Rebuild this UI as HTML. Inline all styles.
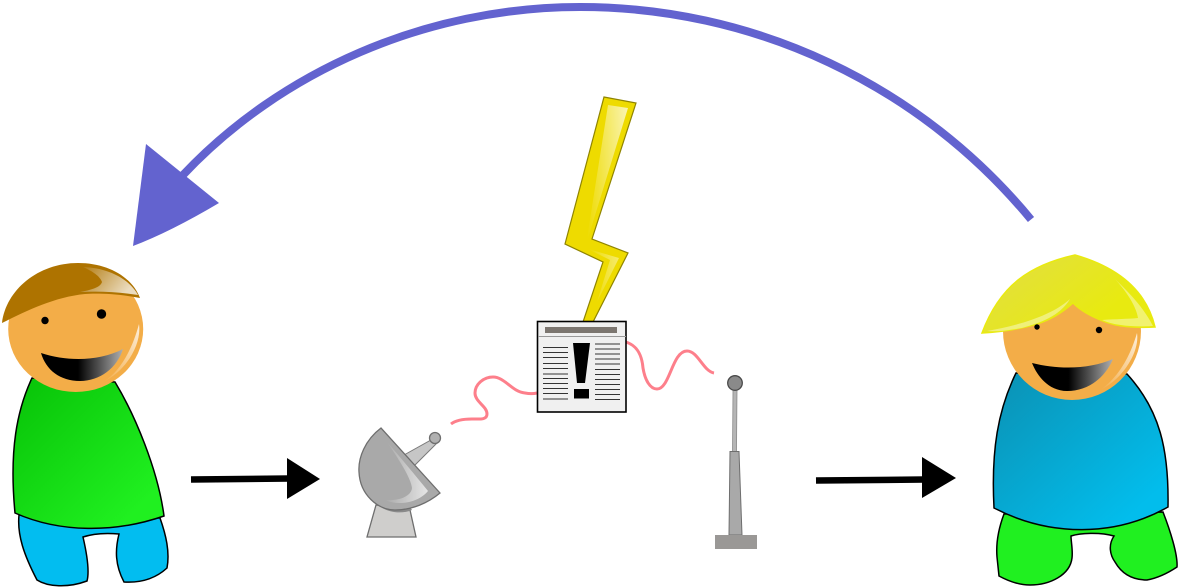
<!DOCTYPE html>
<html>
<head>
<meta charset="utf-8">
<style>
html,body{margin:0;padding:0;background:#fff;width:1178px;height:588px;overflow:hidden}
svg{display:block}
</style>
</head>
<body>
<svg width="1178" height="588" viewBox="0 0 1178 588" xmlns="http://www.w3.org/2000/svg">
<defs>
<linearGradient id="green" x1="0" y1="0" x2="1" y2="1"><stop offset="0.1" stop-color="#0ac70a"/><stop offset="0.85" stop-color="#20f020"/></linearGradient>
<linearGradient id="blue" x1="0" y1="0" x2="1" y2="1"><stop offset="0.1" stop-color="#0a96ba"/><stop offset="0.85" stop-color="#02bdec"/></linearGradient>
<linearGradient id="mouth" x1="0" y1="0" x2="1" y2="0"><stop offset="0.45" stop-color="#000"/><stop offset="1" stop-color="#b0b0b0"/></linearGradient>
<linearGradient id="hl" x1="0" y1="0" x2="1" y2="0.4"><stop offset="0" stop-color="#fff" stop-opacity="0.05"/><stop offset="1" stop-color="#fff" stop-opacity="0.75"/></linearGradient>
<linearGradient id="fh" x1="1" y1="0" x2="0" y2="1"><stop offset="0" stop-color="#fff" stop-opacity="0.8"/><stop offset="1" stop-color="#fff" stop-opacity="0"/></linearGradient>
<linearGradient id="yh" x1="1" y1="0" x2="0" y2="0.3"><stop offset="0" stop-color="#fff" stop-opacity="0.7"/><stop offset="1" stop-color="#fff" stop-opacity="0"/></linearGradient>
<linearGradient id="hairY" x1="0" y1="0" x2="1" y2="0.6"><stop offset="0.1" stop-color="#e2df40"/><stop offset="0.85" stop-color="#e8ea10"/></linearGradient>
<linearGradient id="dishh" x1="0" y1="0" x2="1" y2="0"><stop offset="0" stop-color="#aaa"/><stop offset="1" stop-color="#e6e6e6"/></linearGradient>
</defs>

<!-- big arc arrow -->
<path d="M1031 219.500A584 584 0 0 0 580 7C425 7 280 72 183 175" fill="none" stroke="#6363cf" stroke-width="8"/>
<path d="M146 144L219 203Q170 232 133 246Z" fill="#6363cf"/>

<!-- black arrows -->
<path d="M191 479.500L290 478.500" stroke="#000" stroke-width="6.500" fill="none"/>
<path d="M287 458L320 479L287 499Z" fill="#000"/>
<path d="M816 480.500L925 479.500" stroke="#000" stroke-width="6.500" fill="none"/>
<path d="M922 457L956 478L922 498Z" fill="#000"/>

<!-- left person legs -->
<path d="M19 515C17 535 24 555 37 580C48 587 68 588 87 581C90 570 86 550 83 537C95 533 108 533 119 534C115 550 115 565 124 582C140 583 155 579 167 568C170 552 166 535 160 518Z" fill="#02bdf0" stroke="#000" stroke-width="1.500"/>
<!-- left body -->
<path d="M32 378C17 410 9 450 15 513C60 533 115 533 164 516C158 470 135 415 115 382Z" fill="url(#green)" stroke="#000" stroke-width="1.500"/>
<!-- left head -->
<ellipse cx="75.700" cy="329" rx="67.500" ry="63" fill="#f3ad48"/>
<path d="M139 324C142 345 125 372 103 382C120 372 132 350 139 324Z" fill="url(#fh)"/>
<path d="M2 323C6 290 38 263 78 263C108 263 132 277 140 298C120 294 98 293 85 294C55 297 28 310 2 323Z" fill="#ae7300"/>
<path d="M83 267C110 268 130 280 138 295C120 292 100 291 80 292C90 290 100 288 102 282C100 276 92 271 83 267Z" fill="url(#hl)"/>
<circle cx="45" cy="320.500" r="3.700" fill="#000"/>
<circle cx="101.500" cy="314" r="4.700" fill="#000"/>
<path d="M41 353C68 362 100 361 123 349C117 368 100 381 80 381C60 381 46 370 41 353Z" fill="url(#mouth)"/>

<!-- satellite dish -->
<path d="M376 505L367 537H416L410 510Z" fill="#cfcecc" stroke="#6e6e6e" stroke-width="1.300"/>
<path d="M376 503C384 512 400 515 412 510L405 500Z" fill="#8a8a8a"/>
<path d="M404 455L431 440L436 444L414 466Z" fill="#c6c6c6" stroke="#7a7a7a" stroke-width="1"/>
<circle cx="435" cy="438" r="5.500" fill="#b0b0b0" stroke="#6e6e6e" stroke-width="1.300"/>
<path d="M381 428C365 440 358 458 359 472C360 495 378 510 395 510C412 510 428 503 440 493Z" fill="#a9a9a9" stroke="#6e6e6e" stroke-width="1.300"/>
<path d="M387 442C398 458 411 478 412 488C411 497 398 501 385 500C398 506 418 503 428 491C415 475 400 457 387 442Z" fill="url(#dishh)"/>

<!-- pink waves -->
<path d="M451 424C456 420 463 419 472 419C480 419 487 420 487 414C487 406 475 402 475 393C475 384 484 377 493 377C505 377 512 392 525 393C530 394 533 394 537 393" fill="none" stroke="#fd7f8b" stroke-width="3"/>
<path d="M626 342C638 346 642 356 643 368C645 380 650 389 657 389C670 389 672 351 687 351C698 351 703 371 714 373" fill="none" stroke="#fd7f8b" stroke-width="3"/>

<!-- lightning -->
<path d="M604 97L636 103L592 239L628 253L593 322H583L603 262L565 244Z" fill="#eedb00" stroke="#8f8400" stroke-width="1.200"/>
<path d="M608 105L628 108L585 248L619 258L597 302L610 260L582 246L586 245Z" fill="url(#yh)"/>

<!-- newspaper -->
<rect x="537.500" y="321.500" width="88.500" height="90.500" fill="#f0f0f0" stroke="#000" stroke-width="1.600"/>
<rect x="545" y="327" width="72" height="6" fill="#7c7670"/>
<path d="M538 336.500H626" stroke="#999" stroke-width="1"/>
<g stroke="#333" stroke-width="1">
<path d="M543 347.500H568M543 352.500H568M543 357.500H568M543 363.500H568M543 368.500H568M543 374H568M543 378.500H568M543 383.500H568M543 388.500H568M543 393.500H568M543 399H568"/>
<path d="M595 344H620M595 349H620M595 354H620M595 359H620M595 364H620M595 369.500H620M595 374.500H620M595 379.500H620M595 384.500H620M595 389.500H620M595 394.500H620M595 399.500H620"/>
</g>
<path d="M573 343H590L585 383H577Z" fill="#000"/>
<rect x="574" y="389" width="15" height="9.500" fill="#000"/>

<!-- tower -->
<path d="M733 390H737L736.500 452H732.500Z" fill="#b5b5b5" stroke="#8a8a8a" stroke-width="0.800"/>
<circle cx="735" cy="383" r="7.300" fill="#8a8a8a" stroke="#4a4a4a" stroke-width="1.300"/>
<path d="M730 451.500H739L742 535H729Z" fill="#a9a9a9" stroke="#6e6e6e" stroke-width="1"/>
<rect x="715" y="535" width="42" height="14" fill="#9a9896"/>

<!-- right person legs -->
<path d="M1004 514C998 530 996 545 997 557L999 576C1010 582 1020 585 1030 585C1050 585 1070 575 1072 558C1073 550 1071 542 1071 536C1080 533 1100 532 1114 536C1108 545 1110 555 1115 562C1123 576 1135 580 1147 580C1158 578 1168 573 1177 567C1178 555 1170 530 1163 512Z" fill="#20f020" stroke="#000" stroke-width="1.500"/>
<!-- right body -->
<path d="M1016 373C998 410 991 450 994 508C1050 537 1115 537 1168 507C1169 450 1160 410 1127 374Z" fill="url(#blue)" stroke="#000" stroke-width="1.500"/>
<!-- right head -->
<circle cx="1072" cy="331" r="69" fill="#f3ad48"/>
<path d="M1137 333C1140 352 1122 380 1100 390C1118 378 1130 357 1137 333Z" fill="url(#fh)"/>
<path d="M982 333C1000 285 1030 265 1075 255C1110 265 1145 285 1155 327C1135 328 1118 327 1103 321C1090 316 1080 310 1073 303C1062 313 1050 320 1037 324C1020 329 1000 332 982 333Z" fill="url(#hairY)" stroke="#e9ea10" stroke-width="1.500"/>
<path d="M987 331C1015 326 1050 317 1070 299C1060 316 1040 323 1022 328C1010 330 998 332 987 331Z" fill="#fff" fill-opacity="0.4"/>
<path d="M1115 279C1128 292 1142 305 1153 326C1135 327 1115 326 1102 320C1116 319 1128 319 1138 318C1136 305 1125 290 1115 279Z" fill="#fff" fill-opacity="0.4"/>
<circle cx="1037" cy="327" r="2.700" fill="#000"/>
<circle cx="1099" cy="330" r="3.200" fill="#000"/>
<path d="M1032 363C1060 370 1090 369 1113 359C1105 378 1088 391 1067 391C1050 391 1038 378 1032 363Z" fill="url(#mouth)"/>
</svg>
</body>
</html>
